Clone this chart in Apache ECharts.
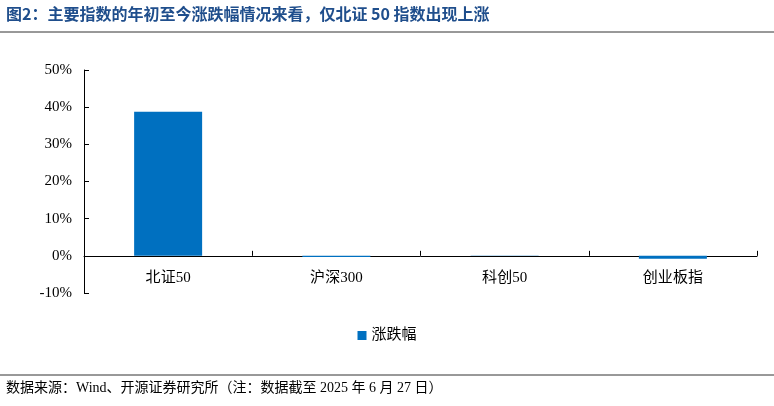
<!DOCTYPE html>
<html><head><meta charset="utf-8">
<script src="https://cdn.jsdelivr.net/npm/echarts@6/dist/echarts.min.js"></script>
<style>body{margin:0;background:#fff}#c{width:774px;height:406px}</style>
</head><body><div id="c"></div>
<script>
var categories = ['北证50', '沪深300', '科创50', '创业板指'];
var changeValues = [38.8, -0.3, -0.05, -0.8];
var seriesName = '涨跌幅';

var font = '"Times New Roman", "Liberation Serif", "Noto Sans CJK SC", serif';
var chart = echarts.init(document.getElementById('c'));
chart.setOption({
	animation: false,
	graphic: [
		{ type: 'text', left: 6, top: 6, style: { text: '图2：主要指数的年初至今涨跌幅情况来看，仅北证 50 指数出现上涨', font: 'bold 16px "Noto Sans CJK SC", serif', fill: '#1f4e8c' } },
		{ type: 'line', shape: { x1: 0, y1: 32, x2: 774, y2: 32 }, style: { stroke: '#333', lineWidth: 1 } },
		{ type: 'line', shape: { x1: 0, y1: 375, x2: 774, y2: 375 }, style: { stroke: '#333', lineWidth: 1 } },
		{ type: 'text', left: 6, top: 381, style: { text: '数据来源：Wind、开源证券研究所（注：数据截至 2025 年 6 月 27 日）', font: '14px ' + font, fill: '#000' } }
	],
	legend: {
		data: [seriesName], top: 323, left: 'center', itemWidth: 9, itemHeight: 9, icon: 'rect',
		textStyle: { fontFamily: font, fontSize: 15, color: '#000' }
	},
	grid: { left: 84, right: 17, top: 70, bottom: 113 },
	xAxis: {
		type: 'category', data: categories,
		axisLine: { onZero: true, lineStyle: { color: '#000' } },
		axisTick: { show: true, lineStyle: { color: '#000' }, length: 5, inside: true },
		axisLabel: { color: '#000', fontFamily: font, fontSize: 15, margin: -22 }
	},
	yAxis: {
		type: 'value', min: -10, max: 50, interval: 10,
		axisLine: { show: true, lineStyle: { color: '#000' } },
		axisTick: { show: true, inside: true, length: 5, lineStyle: { color: '#000' } },
		splitLine: { show: false },
		axisLabel: { formatter: '{value}%', color: '#000', fontFamily: font, fontSize: 15, margin: 12 }
	},
	series: [{
		name: seriesName, type: 'bar', data: changeValues, barWidth: 68,
		itemStyle: { color: '#0070c0' }
	}]
});
</script></body></html>
